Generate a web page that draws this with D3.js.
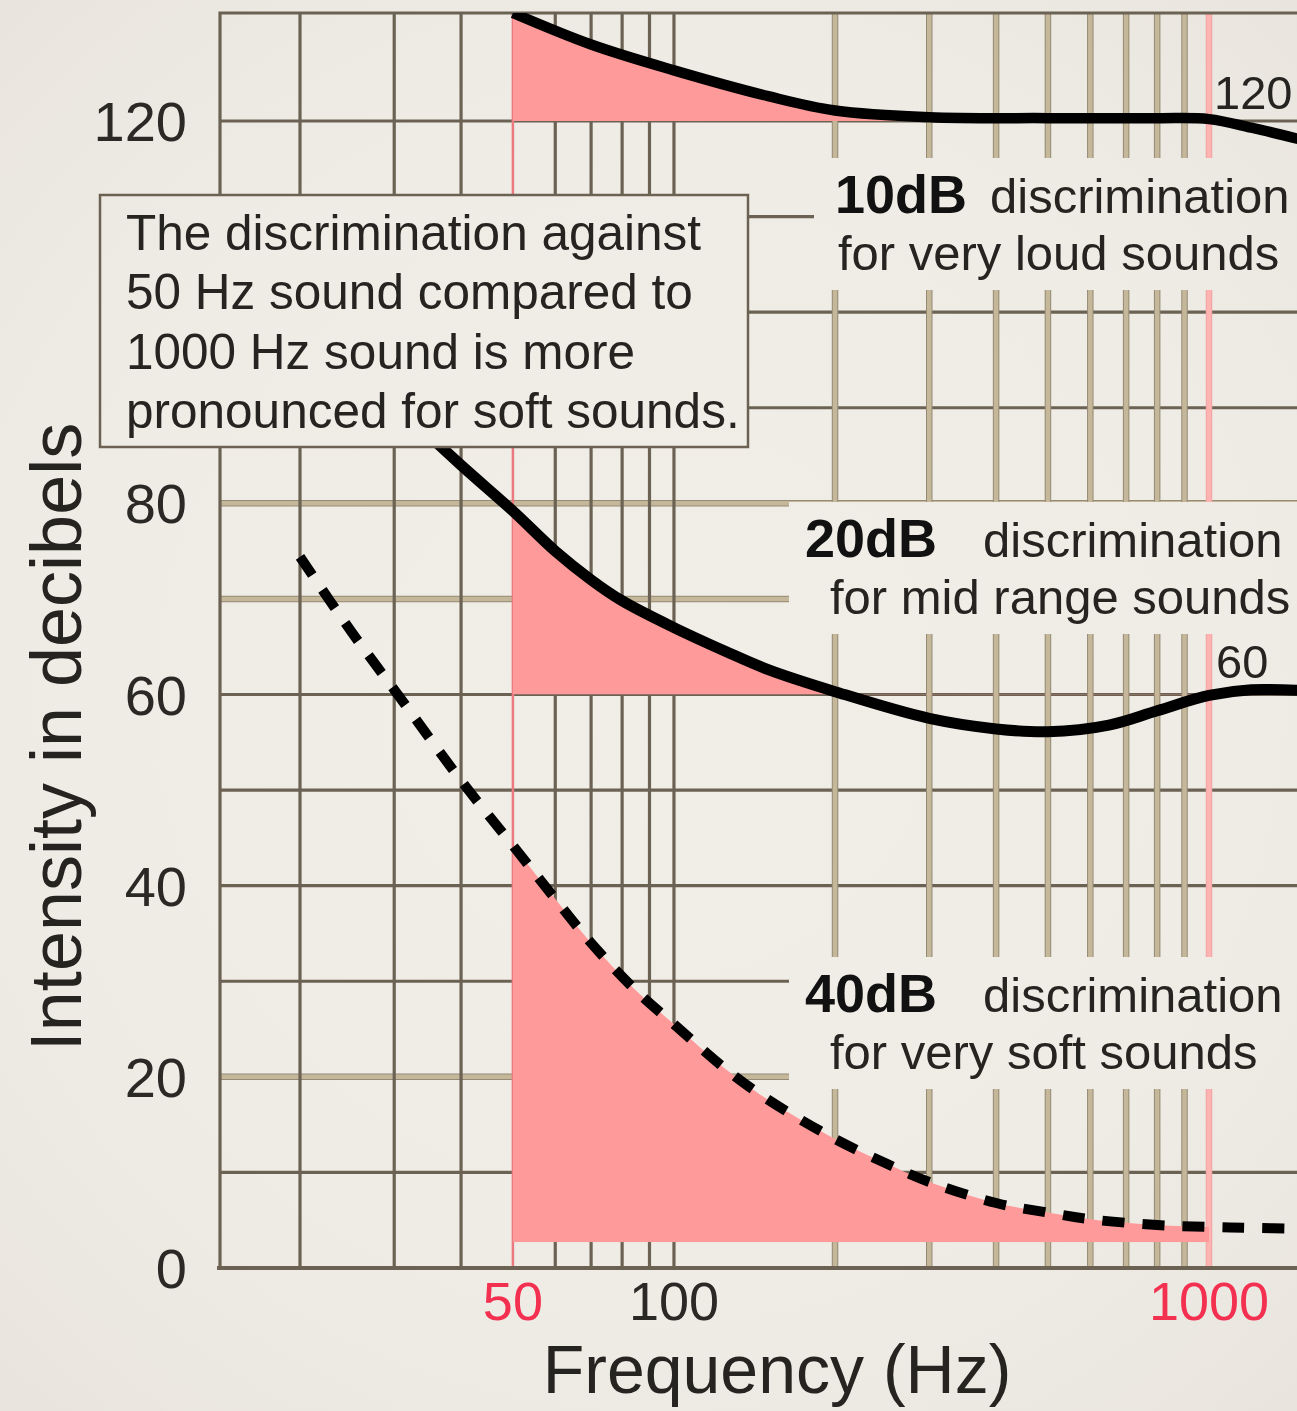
<!DOCTYPE html>
<html>
<head>
<meta charset="utf-8">
<script src="https://cdn.jsdelivr.net/npm/d3@7"></script>
<style>
  html, body { margin: 0; padding: 0; background: #f2efe9; }
  svg { display: block; font-family: "Liberation Sans", Arial, Helvetica, sans-serif; }
</style>
</head>
<body>
<svg id="chart" width="1297" height="1411"></svg>
<script>
// Equal-loudness style curves: intensity (dB) vs frequency (Hz)
const loudFreq = [50, 70, 100, 150, 200, 300, 500, 800, 1000, 1200, 1500];
const loudDb   = [131.3, 128.0, 125.3, 122.6, 121.1, 120.4, 120.3, 120.3, 120.2, 119.3, 118.0];

const midFreq = [30, 40, 50, 60, 70, 80, 100, 125, 150, 200, 300, 400, 500, 650, 800, 1000, 1200, 1500];
const midDb   = [90.5, 84.0, 79.2, 75.0, 72.0, 69.8, 67.0, 64.5, 62.6, 60.3, 57.5, 56.4, 56.1, 56.8, 58.3, 59.9, 60.5, 60.4];

const softFreq = [20, 25, 30, 40, 50, 60, 70, 85, 100, 125, 150, 200, 250, 300, 400, 500, 600, 800, 1000, 1200, 1500];
const softDb   = [74.4, 66.5, 60.5, 51.0, 44.2, 38.6, 34.0, 29.0, 25.5, 20.8, 17.6, 13.5, 10.9, 9.0, 6.8, 5.8, 5.1, 4.5, 4.3, 4.2, 4.1];

// Shaded discrimination bands: frequency span and reference level of each band
const bandFreqRange = [50, 1000];
const loudBandLevel = 120;
const midBandLevel  = 60;
const softBandLevel = 2.7;

// Grid
const darkFreqLines = [20, 30, 40, 60, 70, 80, 90, 100];
const lightFreqLines = [200, 300, 400, 500, 600, 700, 800, 900];
const dbLines = [10, 20, 30, 40, 50, 60, 70, 80, 90, 100, 110, 120];
const lightDbLines = [20, 70, 80];

// Tick labels
const yTicks = [0, 20, 40, 60, 80, 120];
const xTicks = [50, 100, 1000];
const xTickRed = [50, 1000];

const boxLines = [
  "The discrimination against",
  "50 Hz sound compared to",
  "1000 Hz sound is more",
  "pronounced for soft sounds."
];

const bandLabels = [
  { bold: "10dB", rest: "discrimination", sub: "for very loud sounds", x: 835, restX: 990, subX: 838, y: 213, bgX: 814 },
  { bold: "20dB", rest: "discrimination", sub: "for mid range sounds", x: 805, restX: 983, subX: 830, y: 557, bgX: 789 },
  { bold: "40dB", rest: "discrimination", sub: "for very soft sounds", x: 805, restX: 983, subX: 830, y: 1012, bgX: 789 }
];

const W = 1297, H = 1411;
const plot = { left: 220, top: 13, right: 1320, bottom: 1268 };

const x = d3.scaleLog().domain([20, 1000]).range([300, 1209]);
const y = d3.scaleLinear().domain([0, 131.3]).range([plot.bottom, plot.top]);

const svg = d3.select("#chart");
const defs = svg.append("defs");

// Paper background with a soft vignette
const grad = defs.append("radialGradient")
  .attr("id", "paper").attr("gradientUnits", "userSpaceOnUse")
  .attr("cx", 660).attr("cy", 700).attr("r", 1000);
grad.append("stop").attr("offset", 0).attr("stop-color", "#f1eee8");
grad.append("stop").attr("offset", 0.6).attr("stop-color", "#efece6");
grad.append("stop").attr("offset", 1).attr("stop-color", "#e8e4dd");

svg.append("rect").attr("width", W).attr("height", H).attr("fill", "url(#paper)");

defs.append("clipPath").attr("id", "plotClip").append("rect")
  .attr("x", plot.left).attr("y", plot.top)
  .attr("width", plot.right - plot.left).attr("height", plot.bottom - plot.top);

const DARK = "#6b6253";
const TAN = "#c5b799";
const TAN_EDGE = "#958a74";

const grid = svg.append("g").attr("clip-path", "url(#plotClip)");

// horizontal lines
dbLines.forEach(v => {
  const yy = y(v);
  if (lightDbLines.includes(v)) {
    grid.append("line").attr("x1", plot.left).attr("x2", plot.right).attr("y1", yy).attr("y2", yy)
      .attr("stroke", TAN_EDGE).attr("stroke-width", 6.5);
    grid.append("line").attr("x1", plot.left).attr("x2", plot.right).attr("y1", yy).attr("y2", yy)
      .attr("stroke", TAN).attr("stroke-width", 4.5);
  } else {
    grid.append("line").attr("x1", plot.left).attr("x2", plot.right).attr("y1", yy).attr("y2", yy)
      .attr("stroke", DARK).attr("stroke-width", 3.2);
  }
});

// vertical lines
darkFreqLines.forEach(f => {
  grid.append("line").attr("x1", x(f)).attr("x2", x(f)).attr("y1", plot.top).attr("y2", plot.bottom)
    .attr("stroke", DARK).attr("stroke-width", 3.2);
});
lightFreqLines.forEach(f => {
  grid.append("line").attr("x1", x(f)).attr("x2", x(f)).attr("y1", plot.top).attr("y2", plot.bottom)
    .attr("stroke", TAN_EDGE).attr("stroke-width", 6.5);
  grid.append("line").attr("x1", x(f)).attr("x2", x(f)).attr("y1", plot.top).attr("y2", plot.bottom)
    .attr("stroke", TAN).attr("stroke-width", 4.5);
});
// 50 Hz and 1000 Hz markers
grid.append("line").attr("x1", x(bandFreqRange[0])).attr("x2", x(bandFreqRange[0]))
  .attr("y1", plot.top).attr("y2", plot.bottom).attr("stroke", "#ec7880").attr("stroke-width", 2.5);
grid.append("line").attr("x1", x(bandFreqRange[1])).attr("x2", x(bandFreqRange[1]))
  .attr("y1", plot.top).attr("y2", plot.bottom).attr("stroke", "#f2a3a3").attr("stroke-width", 6.5);
grid.append("line").attr("x1", x(bandFreqRange[1])).attr("x2", x(bandFreqRange[1]))
  .attr("y1", plot.top).attr("y2", plot.bottom).attr("stroke", "#ffb4b2").attr("stroke-width", 4.5);

// frame
svg.append("path")
  .attr("d", `M${W + 10},${plot.top}H${plot.left}V${plot.bottom}`)
  .attr("fill", "none").attr("stroke", DARK).attr("stroke-width", 3.2);
svg.append("line").attr("x1", plot.left - 3).attr("x2", W + 10).attr("y1", plot.bottom).attr("y2", plot.bottom)
  .attr("stroke", DARK).attr("stroke-width", 4);

// shaded bands
function series(fs, ds) { return fs.map((f, i) => ({ f, v: ds[i] })); }
const loud = series(loudFreq, loudDb);
const mid = series(midFreq, midDb);
const soft = series(softFreq, softDb);

const smooth = d3.curveCatmullRom.alpha(0.5);

function band(id, data, level) {
  const cp = defs.append("clipPath").attr("id", id);
  cp.append("rect")
    .attr("x", x(bandFreqRange[0])).attr("y", plot.top)
    .attr("width", x(bandFreqRange[1]) - x(bandFreqRange[0]))
    .attr("height", y(level) - plot.top);
  const area = d3.area()
    .x(d => x(d.f)).y0(y(level)).y1(d => y(d.v))
    .curve(smooth);
  svg.append("g").attr("clip-path", "url(#plotClip)")
    .append("path")
    .attr("d", area(data))
    .attr("clip-path", `url(#${id})`)
    .attr("fill", "#ff9a9a")
    .style("mix-blend-mode", "multiply");
}
band("bandLoud", loud, loudBandLevel);
band("bandMid", mid, midBandLevel);
band("bandSoft", soft, softBandLevel);

// label backgrounds that interrupt the grid
bandLabels.forEach(l => {
  svg.append("rect")
    .attr("x", l.bgX).attr("y", l.y - 55)
    .attr("width", W - l.bgX + 10).attr("height", 132)
    .attr("fill", "url(#paper)");
});

// curves
const line = d3.line().x(d => x(d.f)).y(d => y(d.v)).curve(smooth);
const curves = svg.append("g").attr("clip-path", "url(#plotClip)");
curves.append("path").attr("d", line(loud)).attr("fill", "none")
  .attr("stroke", "#000").attr("stroke-width", 10.5);
curves.append("path").attr("d", line(mid)).attr("fill", "none")
  .attr("stroke", "#000").attr("stroke-width", 11);
curves.append("path").attr("d", line(soft)).attr("fill", "none")
  .attr("stroke", "#000").attr("stroke-width", 10)
  .attr("stroke-dasharray", "22 18");

// annotation box
svg.append("rect")
  .attr("x", 100).attr("y", 195).attr("width", 648).attr("height", 252)
  .attr("fill", "url(#paper)").attr("stroke", DARK).attr("stroke-width", 2.5);
const boxText = svg.append("text").attr("fill", "#262421").attr("font-size", 49.5);
boxLines.forEach((t, i) => {
  boxText.append("tspan").attr("x", 126).attr("y", 250 + i * 59.3).text(t);
});

// band labels
bandLabels.forEach(l => {
  svg.append("text").attr("x", l.x).attr("y", l.y)
    .attr("font-size", 54).attr("font-weight", "bold").attr("fill", "#111").text(l.bold);
  svg.append("text").attr("x", l.restX).attr("y", l.y)
    .attr("font-size", 49).attr("fill", "#262421").text(l.rest);
  svg.append("text").attr("x", l.subX).attr("y", l.y + 57)
    .attr("font-size", 49).attr("fill", "#262421").text(l.sub);
});

// level labels inside the plot
svg.append("text").attr("x", x(bandFreqRange[1]) + 5).attr("y", y(loudBandLevel) - 12)
  .attr("font-size", 47).attr("fill", "#262421").text(loudBandLevel);
svg.append("text").attr("x", x(bandFreqRange[1]) + 7).attr("y", y(midBandLevel) - 17)
  .attr("font-size", 47).attr("fill", "#262421").text(midBandLevel);

// y tick labels
svg.append("g").selectAll("text").data(yTicks).join("text")
  .attr("x", 187).attr("y", d => y(d) + 20)
  .attr("text-anchor", "end").attr("font-size", 56).attr("fill", "#2b2926")
  .text(d => d);

// x tick labels
svg.append("g").selectAll("text").data(xTicks).join("text")
  .attr("x", d => x(d)).attr("y", 1320)
  .attr("text-anchor", "middle").attr("font-size", 54)
  .attr("fill", d => xTickRed.includes(d) ? "#f3304f" : "#2b2926")
  .text(d => d);

// axis titles
svg.append("text").attr("x", 777).attr("y", 1393)
  .attr("text-anchor", "middle").attr("font-size", 68).attr("fill", "#262421")
  .text("Frequency (Hz)");
svg.append("text")
  .attr("transform", "translate(81,737) rotate(-90)")
  .attr("text-anchor", "middle").attr("font-size", 72).attr("fill", "#262421")
  .text("Intensity in decibels");
</script>
</body>
</html>
